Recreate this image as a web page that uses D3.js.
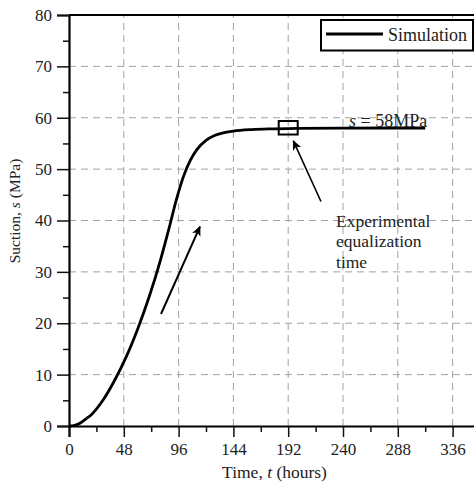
<!DOCTYPE html>
<html>
<head>
<meta charset="utf-8">
<script src="https://cdn.jsdelivr.net/npm/d3@7"></script>
<style>
  html, body { margin: 0; padding: 0; background: #fff; }
  svg { display: block; }
  svg text { font-family: 'Liberation Serif', 'Times New Roman', serif !important; fill: #222; }
</style>
</head>
<body>
<div id="chart"></div>
<script>
// simulated suction vs time
const timeHours = [0, 5, 10, 15, 20, 30, 40, 50, 60, 70, 80, 88, 94, 100, 106, 112, 120, 128, 136, 144, 160, 180, 200, 240, 280, 312];
const suction   = [0, 0.15, 0.6, 1.4, 2.3, 5.1, 8.9, 13.4, 18.8, 25.0, 32.2, 38.8, 44.0, 48.4, 51.6, 53.8, 55.6, 56.6, 57.1, 57.4, 57.7, 57.85, 57.95, 58, 58, 58];

const xTicks = [0, 48, 96, 144, 192, 240, 288, 336];
const xMinor = [24, 72, 120, 168, 216, 264, 312, 360];
const yTicks = [0, 10, 20, 30, 40, 50, 60, 70, 80];
const yMinor = [5, 15, 25, 35, 45, 55, 65, 75];

// experimental equalization point and annotation arrows (data units)
const expPoint = { t: 192, s: 58 };
const arrows = [
  { from: [80.6, 21.8], to: [114.7, 38.8], w: 2 },
  { from: [220.7, 43.7], to: [196.5, 55.5], w: 1.6 }
];

const W = 474, H = 484;
const margin = { left: 69, top: 15 };
const plotW = 411, plotH = 411;
const serif = "'Liberation Serif', 'Times New Roman', serif";

const svg = d3.select('#chart').append('svg')
  .attr('width', W).attr('height', H);

const x = d3.scaleLinear().domain([0, 360]).range([margin.left, margin.left + plotW]);
const y = d3.scaleLinear().domain([0, 80]).range([margin.top + plotH, margin.top]);

// grid
const grid = svg.append('g').attr('stroke', '#a3a3a3').attr('stroke-width', 1)
  .attr('stroke-dasharray', '7,5');
grid.selectAll('.gx').data(xTicks.filter(d => d > 0)).join('line')
  .attr('x1', d => x(d)).attr('x2', d => x(d))
  .attr('y1', y(0)).attr('y2', y(80));
grid.selectAll('.gy').data(yTicks.filter(d => d > 0 && d < 80)).join('line')
  .attr('x1', x(0)).attr('x2', x(360))
  .attr('y1', d => y(d)).attr('y2', d => y(d));

// axes
svg.append('g').attr('transform', `translate(0,${y(0)})`)
  .call(d3.axisBottom(x).tickValues(xTicks).tickSize(11).tickPadding(6));
svg.append('g').attr('transform', `translate(0,${y(0)})`)
  .call(d3.axisBottom(x).tickValues(xMinor).tickSize(6).tickFormat(''))
  .select('.domain').remove();
svg.append('g').attr('transform', `translate(${x(0)},0)`)
  .call(d3.axisLeft(y).tickValues(yTicks).tickSize(12).tickPadding(5));
svg.append('g').attr('transform', `translate(${x(0)},0)`)
  .call(d3.axisLeft(y).tickValues(yMinor).tickSize(6).tickFormat(''))
  .select('.domain').remove();

svg.selectAll('.tick line').attr('stroke', '#111').attr('stroke-width', 1.5);
svg.selectAll('.domain').attr('stroke', '#000').attr('stroke-width', 2.2);
svg.selectAll('.tick text').style('font-size', '17px')
  .style('font-family', serif).attr('fill', '#222');

// top / right border
svg.append('line').attr('x1', x(0)).attr('x2', x(360))
  .attr('y1', y(80)).attr('y2', y(80)).attr('stroke', '#000').attr('stroke-width', 2.2);
svg.append('line').attr('x1', x(360)).attr('x2', x(360))
  .attr('y1', y(80)).attr('y2', y(0)).attr('stroke', '#000').attr('stroke-width', 2.2);

// axis titles
const xt = svg.append('text').attr('x', x(180)).attr('y', 478)
  .attr('text-anchor', 'middle').style('font-size', '17.5px');
xt.append('tspan').text('Time, ');
xt.append('tspan').attr('font-style', 'italic').text('t');
xt.append('tspan').text(' (hours)');

const yt = svg.append('text').attr('transform', 'translate(20,211) rotate(-90)')
  .attr('text-anchor', 'middle').style('font-size', '15.5px');
yt.append('tspan').text('Suction, ');
yt.append('tspan').attr('font-style', 'italic').text('s');
yt.append('tspan').text(' (MPa)');

// simulation curve
const line = d3.line().x((d, i) => x(timeHours[i])).y(d => y(d)).curve(d3.curveMonotoneX);
svg.append('path').datum(suction)
  .attr('d', line).attr('fill', 'none').attr('stroke', '#000').attr('stroke-width', 2.8);

// experimental equalization marker
svg.append('rect')
  .attr('x', x(expPoint.t) - 9.5).attr('y', y(expPoint.s) - 7)
  .attr('width', 19).attr('height', 13.5)
  .attr('fill', 'none').attr('stroke', '#000').attr('stroke-width', 2);

// arrows
const defs = svg.append('defs');
defs.append('marker').attr('id', 'ah').attr('viewBox', '0 0 10 10')
  .attr('refX', 9).attr('refY', 5).attr('markerWidth', 10).attr('markerHeight', 10)
  .attr('markerUnits', 'userSpaceOnUse').attr('orient', 'auto')
  .append('path').attr('d', 'M0,0.5 L10,5 L0,9.5 L2.5,5 Z').attr('fill', '#000');
svg.selectAll('.arrow').data(arrows).join('line')
  .attr('x1', d => x(d.from[0])).attr('y1', d => y(d.from[1]))
  .attr('x2', d => x(d.to[0])).attr('y2', d => y(d.to[1]))
  .attr('stroke', '#000').attr('stroke-width', d => d.w)
  .attr('marker-end', 'url(#ah)');

// annotations
const sl = svg.append('text').attr('x', x(245.3)).attr('y', y(58) - 1.5).style('font-size', '18px');
sl.append('tspan').attr('font-style', 'italic').text('s');
sl.append('tspan').text(' = 58MPa');

['Experimental', 'equalization', 'time'].forEach((t, i) => {
  svg.append('text').attr('x', x(233.9)).attr('y', y(38.8) + i * 20.5)
    .style('font-size', '17.5px').text(t);
});

// legend
const lg = svg.append('g');
lg.append('rect').attr('x', 321).attr('y', 20).attr('width', 152).attr('height', 30.5)
  .attr('fill', '#fff').attr('stroke', '#000').attr('stroke-width', 2);
lg.append('line').attr('x1', 326).attr('x2', 383).attr('y1', 34).attr('y2', 34)
  .attr('stroke', '#000').attr('stroke-width', 2.8);
lg.append('text').attr('x', 388).attr('y', 40.5).style('font-size', '18px').text('Simulation');
</script>
</body>
</html>
